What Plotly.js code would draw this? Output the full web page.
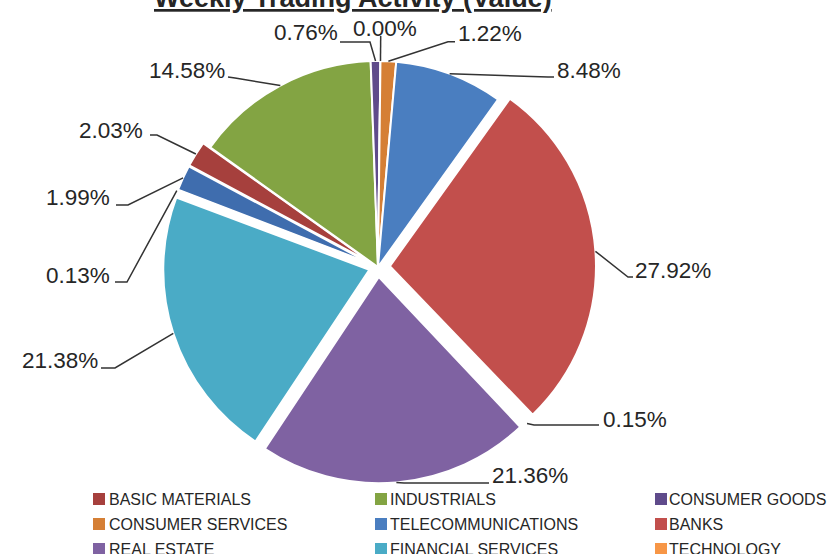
<!DOCTYPE html>
<html>
<head>
<meta charset="utf-8">
<script src="https://cdn.plot.ly/plotly-3.0.1.min.js"></script>
<style>
html,body{margin:0;padding:0;background:#ffffff;}
#chart{width:833px;height:554px;}
</style>
</head>
<body>
<div id="chart"></div>
<script>
// ---------------- data ----------------
const chartTitle = 'Weekly Trading Activity (Value)';
const categories = ['OIL & GAS', 'BASIC MATERIALS', 'INDUSTRIALS', 'CONSUMER GOODS', 'HEALTH CARE',
  'CONSUMER SERVICES', 'TELECOMMUNICATIONS', 'BANKS', 'INSURANCE', 'REAL ESTATE',
  'FINANCIAL SERVICES', 'TECHNOLOGY'];
const shares = [1.99, 2.03, 14.58, 0.76, 0.00, 1.22, 8.48, 27.92, 0.15, 21.36, 21.38, 0.13];
const legendCategories = ['BASIC MATERIALS', 'INDUSTRIALS', 'CONSUMER GOODS',
  'CONSUMER SERVICES', 'TELECOMMUNICATIONS', 'BANKS',
  'REAL ESTATE', 'FINANCIAL SERVICES', 'TECHNOLOGY'];

// ---------------- styles ----------------
const sliceColors = ['#3F6DAE', '#A6403D', '#83A443', '#5F4B8B', '#3E96AE', '#D57F35',
  '#4A7EC0', '#C24F4C', '#9BBB59', '#7F62A2', '#4AABC6', '#F79646'];
const slicePull = [0.04, 0.04, 0, 0, 0, 0, 0, 0.058, 0.049, 0.049, 0.044, 0.044];
const rotationDeg = -69;
const W = 833, H = 554;
const domainX = [0.0936, 0.8139];
const domainY = [0.1245, 0.9116];
const FONT = '"Liberation Sans", Arial, Helvetica, sans-serif';
const TEXT_COLOR = '#262626';

// label layout (pixel positions): side, text edge x, text centre y, attach point, elbow point
const labelSide   = ['L', 'L', 'L', 'L', 'C', 'R', 'R', 'R', 'R', 'R', 'L', 'L'];
const labelText   = [[110, 197.5], [143.3, 130.5], [225, 70.5], [338, 32.5], [385, 28.3], [458, 33.3],
                     [556.7, 70.5], [635, 270], [602.7, 419], [492, 475], [98.3, 360], [110, 275.5]];
const labelAttach = [[116, 205], [150, 135], [228, 77], [340, 42], [380.7, 36], [455, 41.7],
                     [554, 77], [633, 277], [599, 425], [489, 483], [101, 368], [115, 282]];
const labelElbow  = [[128, 205], [157, 135], [235, 78], [370, 42], [380.7, 36], [448, 41.7],
                     [548, 77], [628, 277], [534, 425], [404, 483], [115, 368], [127, 282]];

// legend layout
const legendColX = [93, 375, 655];
const legendTextX = [109, 390, 669];
const legendRowY = [499, 524, 549];

// ---------------- geometry (same as plotly pie) ----------------
const boxW = W * (domainX[1] - domainX[0]);
const boxH = H * (domainY[1] - domainY[0]);
const maxPull = Math.max.apply(null, slicePull);
const pieR = Math.min(boxW / 2, boxH / 2) / (1 + maxPull);
const cx = W * (domainX[0] + domainX[1]) / 2;
const cy = H * (1 - domainY[0]) - boxH / 2;

const px = x => x / W;
const py = y => 1 - y / H;

const total = shares.reduce((a, b) => a + b, 0);
const shapes = [];
const annotations = [];

let cum = 0;
shares.forEach((v, i) => {
  const midDeg = rotationDeg + 360 * (cum + v / 2) / total;
  cum += v;
  const a = midDeg * Math.PI / 180;
  const R = pieR * (1 + slicePull[i]);
  const sx = cx + R * Math.sin(a);
  const sy = cy - R * Math.cos(a);
  const at = labelAttach[i], el = labelElbow[i];
  shapes.push({
    type: 'path', xref: 'paper', yref: 'paper',
    path: `M ${px(at[0])},${py(at[1])} L ${px(el[0])},${py(el[1])} L ${px(sx)},${py(sy)}`,
    line: {color: '#333333', width: 1.5}
  });
  const side = labelSide[i];
  annotations.push({
    xref: 'paper', yref: 'paper',
    x: px(labelText[i][0]), y: py(labelText[i][1]),
    xanchor: side === 'L' ? 'right' : (side === 'R' ? 'left' : 'center'),
    yanchor: 'middle',
    text: v.toFixed(2) + '%',
    showarrow: false, borderpad: 0, borderwidth: 0,
    font: {family: FONT, size: 22.5, color: TEXT_COLOR}
  });
});

// legend
legendCategories.forEach((name, k) => {
  const col = k % 3, row = Math.floor(k / 3);
  const idx = categories.indexOf(name);
  const yc = legendRowY[row];
  shapes.push({
    type: 'rect', xref: 'paper', yref: 'paper',
    x0: px(legendColX[col]), x1: px(legendColX[col] + 12),
    y0: py(yc + 6), y1: py(yc - 6),
    fillcolor: sliceColors[idx], line: {width: 0}
  });
  annotations.push({
    xref: 'paper', yref: 'paper',
    x: px(legendTextX[col]), y: py(yc),
    xanchor: 'left', yanchor: 'middle',
    text: name, showarrow: false, borderpad: 0, borderwidth: 0,
    font: {family: FONT, size: 16, color: TEXT_COLOR}
  });
});

// title (partly above the visible area, as in the reference)
annotations.push({
  xref: 'paper', yref: 'paper',
  x: px(352.5), y: py(-2.4),
  xanchor: 'center', yanchor: 'middle',
  text: '<b><u>' + chartTitle + '</u></b>',
  showarrow: false, borderpad: 0, borderwidth: 0,
  font: {family: FONT, size: 27, color: TEXT_COLOR}
});

const trace = {
  type: 'pie',
  labels: categories,
  values: shares,
  sort: false,
  direction: 'clockwise',
  rotation: rotationDeg,
  pull: slicePull,
  marker: {colors: sliceColors, line: {color: '#ffffff', width: 2}},
  textinfo: 'none',
  hoverinfo: 'label+percent',
  showlegend: false,
  domain: {x: domainX, y: domainY}
};

const layout = {
  width: W, height: H,
  margin: {l: 0, r: 0, t: 0, b: 0, autoexpand: false},
  paper_bgcolor: '#ffffff',
  plot_bgcolor: '#ffffff',
  showlegend: false,
  shapes: shapes,
  annotations: annotations,
  font: {family: FONT, color: TEXT_COLOR}
};

Plotly.newPlot('chart', [trace], layout, {displayModeBar: false, staticPlot: true});
</script>
</body>
</html>
